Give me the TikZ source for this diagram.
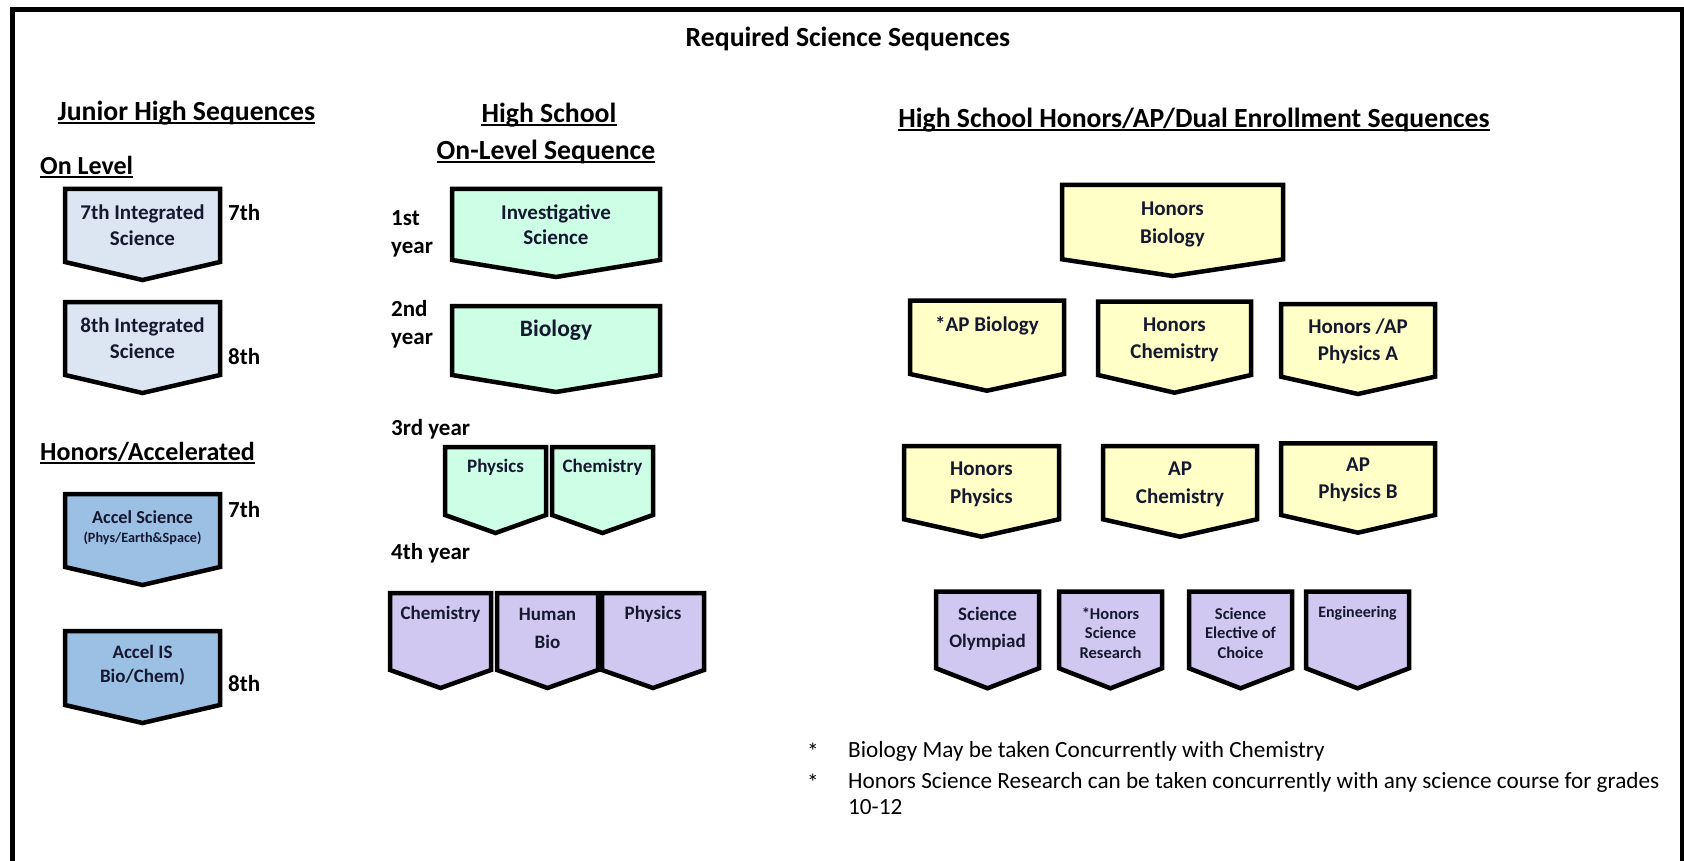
\documentclass[tikz,border=0pt]{standalone}
\usepackage{fontspec}
\setmainfont{Carlito}
\usetikzlibrary{calc}

\newlength{\du}
\setlength{\du}{10pt}
\newcommand{\fsz}[2]{\fontsize{#1}{#2}\selectfont\bfseries}

\definecolor{jrlight}{RGB}{220,230,242}
\definecolor{jraccel}{RGB}{155,192,228}
\definecolor{hsgreen}{RGB}{204,255,230}
\definecolor{hsyellow}{RGB}{255,255,200}
\definecolor{hspurple}{RGB}{208,200,240}
\definecolor{boxink}{RGB}{22,24,48}

\tikzset{
  crs/.style={line width=0.45\du, draw=black, line join=miter},
  crslbl/.style={align=center, inner sep=0pt, text=boxink},
  heading/.style={anchor=west, inner sep=0pt, font=\fsz{26}{31}},
  bighead/.style={inner sep=0pt, font=\fsz{27.7}{32}},
  yrlbl/.style={anchor=west, inner sep=0pt, align=left, font=\fsz{23}{28}},
  notetxt/.style={inner sep=0pt, font=\fontsize{23.2}{27}\selectfont},
  uline/.style={line width=0.18\du},
  frame/.style={line width=0.5\du, line cap=rect}
}

\begin{document}
\begin{tikzpicture}
\pgftransformxscale{1.000000}
\pgftransformyscale{-1.000000}
\useasboundingbox (0\du,0\du) rectangle (168.4\du,86.1\du);
\fill[white] (0\du,0\du) rectangle (168.4\du,86.1\du);
% outer frame
\draw[frame] (1.250000\du,87.000000\du)--(1.250000\du,0.950000\du)--(168.200000\du,0.950000\du)--(168.200000\du,87.000000\du);
% title
\node[bighead] (title) at (84.800000\du,3.900000\du){Required Science Sequences};

% ---- junior high
\node[bighead, anchor=west] (jrhead) at (5.750000\du,11.300000\du){Junior High Sequences};
\draw[uline] ($(jrhead.base west)+(0,0.28\du)$)--($(jrhead.base east)+(0,0.28\du)$);
\node[heading] (onlevel) at (4.000000\du,16.500000\du){On Level};
\draw[uline] ($(onlevel.base west)+(0,0.28\du)$)--($(onlevel.base east)+(0,0.28\du)$);
\filldraw[crs, fill=jrlight] (6.500000\du,18.900000\du)--(22.000000\du,18.900000\du)--(22.000000\du,26.200000\du)--(14.250000\du,28.000000\du)--(6.500000\du,26.200000\du)--cycle;
\node[crslbl, font=\fsz{21}{26}] (jrseven) at (14.250000\du,22.500000\du){7th Integrated\\Science};
\node[yrlbl] (gradeseven) at (22.800000\du,21.300000\du){7th};
\filldraw[crs, fill=jrlight] (6.500000\du,30.200000\du)--(22.000000\du,30.200000\du)--(22.000000\du,37.500000\du)--(14.250000\du,39.300000\du)--(6.500000\du,37.500000\du)--cycle;
\node[crslbl, font=\fsz{21}{26}] (jreight) at (14.250000\du,33.850000\du){8th Integrated\\Science};
\node[yrlbl] (gradeeight) at (22.800000\du,35.700000\du){8th};
\node[heading] (honacc) at (4.000000\du,45.200000\du){Honors/Accelerated};
\draw[uline] ($(honacc.base west)+(0,0.28\du)$)--($(honacc.base east)+(0,0.28\du)$);
\filldraw[crs, fill=jraccel] (6.500000\du,49.400000\du)--(22.000000\du,49.400000\du)--(22.000000\du,56.700000\du)--(14.250000\du,58.500000\du)--(6.500000\du,56.700000\du)--cycle;
\node[crslbl, font=\fsz{18.3}{21}] (accsci) at (14.250000\du,51.700000\du){Accel Science};
\node[crslbl, font=\fsz{14.2}{16}] (accsub) at (14.250000\du,53.800000\du){(Phys/Earth\&Space)};
\node[yrlbl] (accseven) at (22.800000\du,51.000000\du){7th};
\filldraw[crs, fill=jraccel] (6.500000\du,63.100000\du)--(22.000000\du,63.100000\du)--(22.000000\du,70.500000\du)--(14.250000\du,72.300000\du)--(6.500000\du,70.500000\du)--cycle;
\node[crslbl, font=\fsz{19}{24}] (accis) at (14.250000\du,66.500000\du){Accel IS\\Bio/Chem)};
\node[yrlbl] (acceight) at (22.800000\du,68.400000\du){8th};

% ---- high school on level
\node[bighead] (hshead) at (54.900000\du,11.500000\du){High School};
\draw[uline] ($(hshead.base west)+(0,0.28\du)$)--($(hshead.base east)+(0,0.28\du)$);
\node[bighead] (hssub) at (54.600000\du,15.200000\du){On-Level Sequence};
\draw[uline] ($(hssub.base west)+(0,0.28\du)$)--($(hssub.base east)+(0,0.28\du)$);
\node[yrlbl] (yrone) at (39.100000\du,23.400000\du){1st\\year};
\node[yrlbl] (yrtwo) at (39.100000\du,32.400000\du){2nd\\year};
\node[yrlbl] (yrthree) at (39.100000\du,42.900000\du){3rd year};
\node[yrlbl] (yrfour) at (39.100000\du,55.300000\du){4th year};
\filldraw[crs, fill=hsgreen] (45.200000\du,18.900000\du)--(66.000000\du,18.900000\du)--(66.000000\du,26.000000\du)--(55.600000\du,27.700000\du)--(45.200000\du,26.000000\du)--cycle;
\node[crslbl, font=\fsz{21}{25}] (invsci) at (55.600000\du,22.450000\du){Investigative\\Science};
\filldraw[crs, fill=hsgreen] (45.200000\du,30.600000\du)--(66.000000\du,30.600000\du)--(66.000000\du,37.500000\du)--(55.600000\du,39.200000\du)--(45.200000\du,37.500000\du)--cycle;
\node[crslbl, font=\fsz{23.5}{27}] (bio) at (55.600000\du,33.000000\du){Biology};
\filldraw[crs, fill=hsgreen] (44.500000\du,44.700000\du)--(54.600000\du,44.700000\du)--(54.600000\du,51.500000\du)--(49.550000\du,53.300000\du)--(44.500000\du,51.500000\du)--cycle;
\node[crslbl, font=\fsz{19}{22}] (physthree) at (49.550000\du,46.700000\du){Physics};
\filldraw[crs, fill=hsgreen] (55.200000\du,44.700000\du)--(65.300000\du,44.700000\du)--(65.300000\du,51.500000\du)--(60.250000\du,53.300000\du)--(55.200000\du,51.500000\du)--cycle;
\node[crslbl, font=\fsz{19}{22}] (chemthree) at (60.250000\du,46.700000\du){Chemistry};
\filldraw[crs, fill=hspurple] (39.000000\du,59.300000\du)--(49.100000\du,59.300000\du)--(49.100000\du,67.000000\du)--(44.050000\du,68.800000\du)--(39.000000\du,67.000000\du)--cycle;
\node[crslbl, font=\fsz{19}{28}] (chemfour) at (44.050000\du,61.400000\du){Chemistry};
\filldraw[crs, fill=hspurple] (49.700000\du,59.300000\du)--(59.800000\du,59.300000\du)--(59.800000\du,67.000000\du)--(54.750000\du,68.800000\du)--(49.700000\du,67.000000\du)--cycle;
\node[crslbl, font=\fsz{19}{28}] (humbio) at (54.750000\du,62.800000\du){Human\\Bio};
\filldraw[crs, fill=hspurple] (60.200000\du,59.300000\du)--(70.400000\du,59.300000\du)--(70.400000\du,67.000000\du)--(65.300000\du,68.800000\du)--(60.200000\du,67.000000\du)--cycle;
\node[crslbl, font=\fsz{19}{28}] (physfour) at (65.300000\du,61.400000\du){Physics};

% ---- honors / ap / dual enrollment
\node[bighead] (honhead) at (119.400000\du,12.000000\du){High School Honors/AP/Dual Enrollment Sequences};
\draw[uline] ($(honhead.base west)+(0,0.28\du)$)--($(honhead.base east)+(0,0.28\du)$);
\filldraw[crs, fill=hsyellow] (106.200000\du,18.500000\du)--(128.300000\du,18.500000\du)--(128.300000\du,25.930000\du)--(117.250000\du,27.600000\du)--(106.200000\du,25.930000\du)--cycle;
\node[crslbl, font=\fsz{21}{28}] (honbio) at (117.250000\du,22.400000\du){Honors\\Biology};
\filldraw[crs, fill=hsyellow] (91.000000\du,30.070000\du)--(106.400000\du,30.070000\du)--(106.400000\du,37.400000\du)--(98.700000\du,39.070000\du)--(91.000000\du,37.400000\du)--cycle;
\node[crslbl, font=\fsz{21}{27}] (apbio) at (98.700000\du,32.600000\du){*AP Biology};
\filldraw[crs, fill=hsyellow] (109.800000\du,30.170000\du)--(125.100000\du,30.170000\du)--(125.100000\du,37.500000\du)--(117.450000\du,39.270000\du)--(109.800000\du,37.500000\du)--cycle;
\node[crslbl, font=\fsz{21}{27}] (honchem) at (117.450000\du,33.970000\du){Honors\\Chemistry};
\filldraw[crs, fill=hsyellow] (128.100000\du,30.400000\du)--(143.500000\du,30.400000\du)--(143.500000\du,37.670000\du)--(135.800000\du,39.400000\du)--(128.100000\du,37.670000\du)--cycle;
\node[crslbl, font=\fsz{21}{27}] (honphysa) at (135.800000\du,34.120000\du){Honors /AP\\Physics A};
\filldraw[crs, fill=hsyellow] (90.400000\du,44.600000\du)--(105.900000\du,44.600000\du)--(105.900000\du,51.930000\du)--(98.150000\du,53.670000\du)--(90.400000\du,51.930000\du)--cycle;
\node[crslbl, font=\fsz{21}{27.6}] (honphys) at (98.150000\du,48.450000\du){Honors\\Physics};
\filldraw[crs, fill=hsyellow] (110.300000\du,44.600000\du)--(125.700000\du,44.600000\du)--(125.700000\du,51.930000\du)--(118.000000\du,53.670000\du)--(110.300000\du,51.930000\du)--cycle;
\node[crslbl, font=\fsz{21}{27.6}] (apchem) at (118.000000\du,48.450000\du){AP\\Chemistry};
\filldraw[crs, fill=hsyellow] (128.100000\du,44.330000\du)--(143.500000\du,44.330000\du)--(143.500000\du,51.500000\du)--(135.800000\du,53.270000\du)--(128.100000\du,51.500000\du)--cycle;
\node[crslbl, font=\fsz{21}{27.6}] (apphysb) at (135.800000\du,48.000000\du){AP\\Physics B};
\filldraw[crs, fill=hspurple] (93.600000\du,59.170000\du)--(103.900000\du,59.170000\du)--(103.900000\du,66.830000\du)--(98.750000\du,68.830000\du)--(93.600000\du,66.830000\du)--cycle;
\node[crslbl, font=\fsz{19}{26.7}] (sciolym) at (98.750000\du,62.850000\du){Science\\Olympiad};
\filldraw[crs, fill=hspurple] (105.900000\du,59.170000\du)--(116.200000\du,59.170000\du)--(116.200000\du,66.830000\du)--(111.050000\du,68.830000\du)--(105.900000\du,66.830000\du)--cycle;
\node[crslbl, font=\fsz{16.5}{19.7}] (honres) at (111.050000\du,63.300000\du){*Honors\\Science\\Research};
\filldraw[crs, fill=hspurple] (118.900000\du,59.170000\du)--(129.200000\du,59.170000\du)--(129.200000\du,66.830000\du)--(124.050000\du,68.830000\du)--(118.900000\du,66.830000\du)--cycle;
\node[crslbl, font=\fsz{16.5}{19.7}] (elective) at (124.050000\du,63.300000\du){Science\\Elective of\\Choice};
\filldraw[crs, fill=hspurple] (130.600000\du,59.170000\du)--(140.900000\du,59.170000\du)--(140.900000\du,66.830000\du)--(135.750000\du,68.830000\du)--(130.600000\du,66.830000\du)--cycle;
\node[crslbl, font=\fsz{16}{20}] (engin) at (135.750000\du,61.330000\du){Engineering};

% notes
\node[notetxt] (starone) at (81.300000\du,75.100000\du){*};
\node[notetxt, anchor=west] (noteone) at (84.800000\du,75.100000\du){Biology May be taken Concurrently with Chemistry};
\node[notetxt] (startwo) at (81.300000\du,78.200000\du){*};
\node[notetxt, anchor=west] (notetwo) at (84.800000\du,78.200000\du){Honors Science Research can be taken concurrently with any science course for grades};
\node[notetxt, anchor=west] (notethree) at (84.800000\du,80.700000\du){10-12};
\end{tikzpicture}
\end{document}
